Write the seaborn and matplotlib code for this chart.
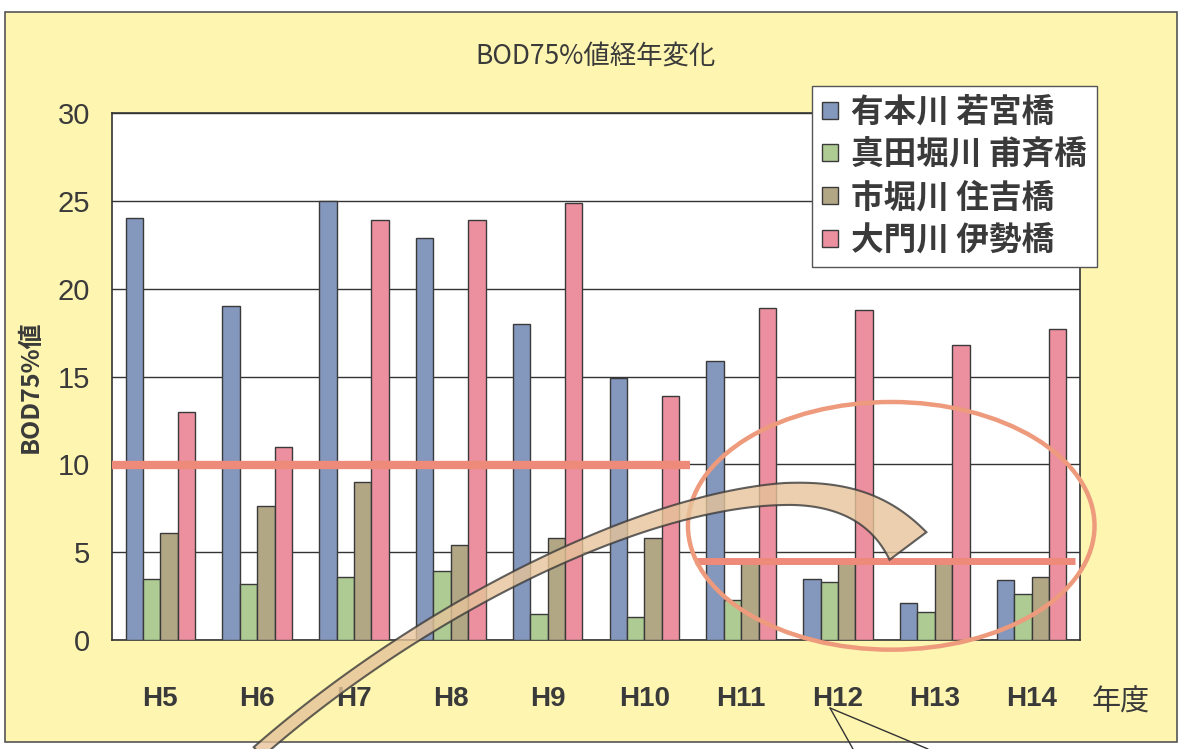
import numpy as np
import pandas as pd
import matplotlib
matplotlib.use("Agg")
import matplotlib.pyplot as plt
from matplotlib.patches import Ellipse, Polygon, Rectangle
from matplotlib.lines import Line2D
import seaborn as sns

# BOD 75% values (mg/L) by fiscal year for each monitoring point
years = ["H5", "H6", "H7", "H8", "H9", "H10", "H11", "H12", "H13", "H14"]
sites = ["有本川 若宮橋", "真田堀川 甫斉橋", "市堀川 住吉橋", "大門川 伊勢橋"]
arimoto = [24.0, 19.0, 25.0, 22.9, 18.0, 14.9, 15.9, 3.5, 2.1, 3.4]
sanada = [3.5, 3.2, 3.6, 3.9, 1.5, 1.3, 2.3, 3.3, 1.6, 2.6]
ichibori = [6.1, 7.6, 9.0, 5.4, 5.8, 5.8, 4.4, 4.4, 4.4, 3.6]
daimon = [13.0, 11.0, 23.9, 23.9, 24.9, 13.9, 18.9, 18.8, 16.8, 17.7]
yticks = [0, 5, 10, 15, 20, 25, 30]

colors = ["#8497BD", "#AECB94", "#B2A785", "#EC909F"]
YELLOW = "#FDF5B0"
INK = "#3A3A3A"

df = pd.DataFrame({
    "year": years * 4,
    "site": [s for s in sites for _ in years],
    "bod": arimoto + sanada + ichibori + daimon,
})

sns.set_theme(style="white")
plt.rcParams["font.family"] = ["Liberation Sans Narrow", "Liberation Sans", "DejaVu Sans"]
CJK = ["Noto Sans CJK JP", "DejaVu Sans"]

W, H = 1182, 749
fig = plt.figure(figsize=(W / 100, H / 100), dpi=100, facecolor="white")


def fx(px):
    return px / W


def fy(py):
    return 1 - py / H


# pale yellow chart sheet with its frame
sheet = Rectangle((fx(5), fy(742)), fx(1177) - fx(5), fy(12) - fy(742),
                  transform=fig.transFigure, facecolor=YELLOW,
                  edgecolor="#555555", lw=1.2, zorder=-5)
fig.patches.append(sheet)

ax = fig.add_axes([fx(112), fy(640), fx(1080) - fx(112), fy(113) - fy(640)])
ax.set_zorder(1)
ax.set_facecolor("white")

sns.barplot(data=df, x="year", y="bod", hue="site", order=years, hue_order=sites,
            palette=colors, width=0.72, edgecolor="#3A3A3A", linewidth=1.0,
            saturation=1, errorbar=None, ax=ax, zorder=3)

ax.set_ylim(0, 30)
ax.set_xlim(-0.5, len(years) - 0.5)
ax.set_yticks(yticks)
ax.set_yticklabels([str(v) for v in yticks], fontsize=21, color=INK)
ax.yaxis.grid(True, color="#333333", lw=1.0)
ax.set_axisbelow(True)
ax.tick_params(axis="y", length=0, pad=16)
ax.set_xticks(range(len(years)))
ax.set_xticklabels(years, fontsize=20, fontweight="bold", color=INK)
ax.tick_params(axis="x", length=0, pad=33)
ax.set_xticks(np.arange(0.5, len(years) - 1, 1.0), minor=True)
ax.tick_params(axis="x", which="minor", direction="in", length=6, color="#444444", width=1)
ax.set_xlabel("")
ax.set_ylabel("")
for s in ax.spines.values():
    s.set_color("#333333")
    s.set_linewidth(1.2)

handles, labels = ax.get_legend_handles_labels()
ax.get_legend().remove()
leg = fig.legend(handles, labels, loc="upper left", bbox_to_anchor=(fx(812), fy(86)),
                 bbox_transform=fig.transFigure, frameon=True, fancybox=False,
                 edgecolor="#555555", facecolor="white", framealpha=1,
                 prop={"family": CJK, "size": 23.5, "weight": "bold"},
                 labelcolor=INK, handlelength=0.5, handleheight=0.42,
                 handletextpad=0.4, labelspacing=0.3, borderpad=0.3, borderaxespad=0)
leg.set_zorder(5)

fig.text(fx(596), fy(56), "BOD75%値経年変化", ha="center", va="center",
         fontsize=19, family=CJK, color=INK)
fig.text(fx(31), fy(387), "BOD75%値", ha="center", va="center", rotation=90,
         fontsize=18, family=CJK, color=INK, fontweight="bold")
fig.text(fx(1121), fy(703), "年度", ha="center", va="center",
         fontsize=21, family=CJK, color=INK)

# hand-drawn markings: reference levels and highlighted period
RED = "#EE8A7A"
ax.plot([-0.5, 5.47], [9.95, 9.95], color=RED, lw=6, solid_capstyle="butt", zorder=6)
ax.plot([5.52, 9.45], [4.5, 4.5], color=RED, lw=5, solid_capstyle="butt", zorder=6)
ax.add_patch(Ellipse((7.55, 6.5), 4.2, 14.1, fill=False, edgecolor="#EE9A7C",
                     lw=3.2, zorder=7, clip_on=False))


# curved tan arrow sweeping up into the highlighted period (figure pixel space)
def bezier(p0, p1, p2, p3, n=80):
    t = np.linspace(0, 1, n)[:, None]
    p0, p1, p2, p3 = map(np.asarray, (p0, p1, p2, p3))
    return ((1 - t) ** 3) * p0 + 3 * ((1 - t) ** 2) * t * p1 + 3 * (1 - t) * t ** 2 * p2 + t ** 3 * p3


seg_a = bezier((258, 752), (420, 610), (640, 500), (785, 494))
seg_b = bezier((785, 494), (850, 492), (885, 515), (908, 546))
center = np.vstack([seg_a, seg_b[1:]])
ta = np.linspace(0, 1, len(seg_a))
tb = np.linspace(0, 1, len(seg_b))[1:]
half = np.concatenate([(13 + 9 * ta ** 3) / 2, (22 + 24 * tb ** 1.5) / 2])
d = np.gradient(center, axis=0)
d /= np.linalg.norm(d, axis=1, keepdims=True)
normal = np.column_stack([d[:, 1], -d[:, 0]])
upper = center + normal * half[:, None]
lower = center - normal * half[:, None]
outline = np.vstack([upper, lower[::-1]])
outline_fig = np.column_stack([fx(outline[:, 0]), fy(outline[:, 1])])
fig.patches.append(Polygon(outline_fig, closed=True, transform=fig.transFigure,
                           facecolor="#E6C49A", edgecolor="#3A3A3A", lw=1.5,
                           alpha=0.8, zorder=8))

# callout pointer under H12
for ex in (853, 928):
    fig.lines.append(Line2D([fx(830), fx(ex)], [fy(708), fy(749)],
                            transform=fig.transFigure, color="#333333", lw=1.0, zorder=8))

fig.savefig("out.png", dpi=100, facecolor=fig.get_facecolor())
